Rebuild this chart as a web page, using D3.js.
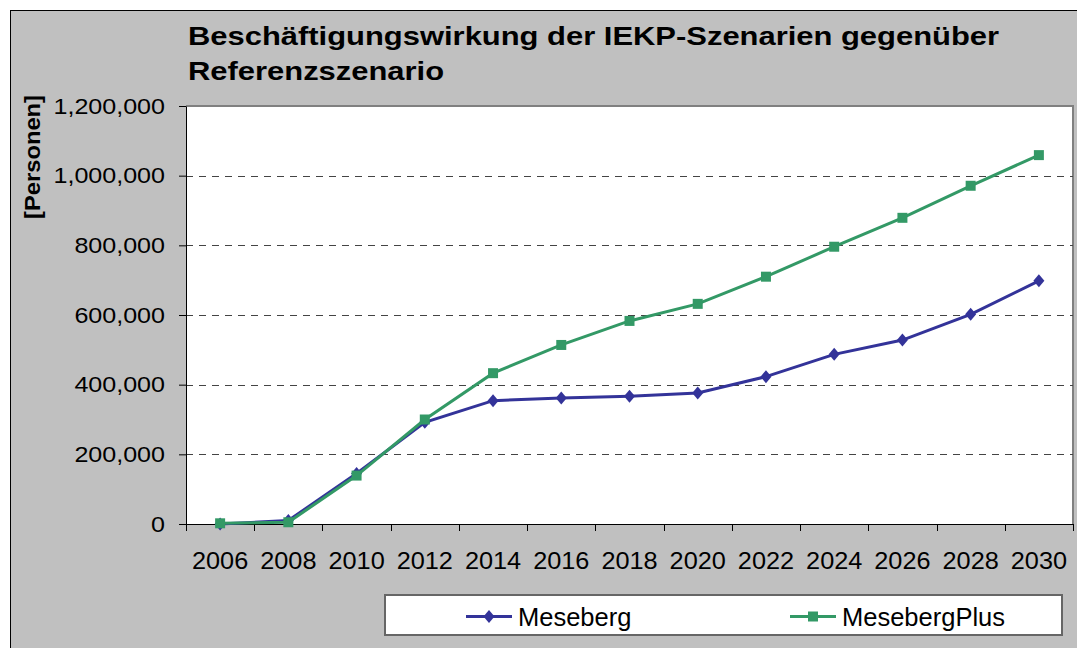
<!DOCTYPE html>
<html>
<head>
<meta charset="utf-8">
<script src="https://cdn.jsdelivr.net/npm/d3@7"></script>
<style>
  body { margin: 0; background: #fff; }
  text { font-family: "Liberation Sans", Arial, sans-serif; fill: #000; }
</style>
</head>
<body>
<div id="chart"></div>
<script>
// values
let years = [2006, 2008, 2010, 2012, 2014, 2016, 2018, 2020, 2022, 2024, 2026, 2028, 2030]
let meseberg = [0, 10000, 145000, 292000, 354000, 362000, 367000, 376000, 423000, 487000, 528000, 602000, 698000]
let mesebergPlus = [2000, 5000, 139000, 300000, 433000, 514000, 583000, 632000, 710000, 796000, 879000, 971000, 1059000]
let yTicks = [0, 200000, 400000, 600000, 800000, 1000000, 1200000]
let titleLines = ["Beschäftigungswirkung der IEKP-Szenarien gegenüber", "Referenzszenario"]
let seriesNames = ["Meseberg", "MesebergPlus"]

let W = 1077, H = 648
let plot = {left: 186, right: 1073, top: 106, bottom: 524}
let blue = "#333399", green = "#339966"

let svg = d3.select("#chart").append("svg")
    .attr("width", W).attr("height", H)

// chart background with black frame
svg.append("rect")
    .attr("x", 10.5).attr("y", 10.5)
    .attr("width", 1100).attr("height", 700)
    .attr("fill", "#c0c0c0").attr("stroke", "#000").attr("stroke-width", 1)

// title
titleLines.forEach((t, i) => {
    svg.append("text")
        .attr("transform", `translate(188,${45 + i * 35}) scale(1.19,1)`)
        .style("font-size", "26px").style("font-weight", "bold")
        .text(t)
})

let x = d3.scaleBand().domain(years).range([plot.left, plot.right])
let y = d3.scaleLinear().domain([0, 1200000]).range([plot.bottom, plot.top])

// plot area
svg.append("rect")
    .attr("x", plot.left).attr("y", plot.top)
    .attr("width", plot.right - plot.left).attr("height", plot.bottom - plot.top)
    .attr("fill", "#fff")
svg.append("path")
    .attr("d", `M${plot.left},${plot.top}H${plot.right}V${plot.bottom}`)
    .attr("fill", "none").attr("stroke", "#808080").attr("stroke-width", 2)

// dashed gridlines
svg.append("g").selectAll("line")
    .data(yTicks.filter(d => d > 0 && d < 1200000))
    .enter().append("line")
    .attr("x1", plot.left).attr("x2", plot.right)
    .attr("y1", d => Math.round(y(d)) + 0.5).attr("y2", d => Math.round(y(d)) + 0.5)
    .attr("stroke", "#444").attr("stroke-dasharray", "7,6")

// y axis
let yAxisG = svg.append("g")
    .attr("transform", `translate(${plot.left},0)`)
    .call(d3.axisLeft(y).tickValues(yTicks).tickSize(7).tickSizeOuter(0)
        .tickFormat(d3.format(",")))
yAxisG.select(".domain").attr("stroke", "#000")
yAxisG.selectAll(".tick line").attr("stroke", "#000")
yAxisG.selectAll(".tick text")
    .attr("x", -21 / 1.14)
    .attr("transform", "scale(1.14,1)")
    .style("font-size", "22px").style("font-family", "Liberation Sans, Arial, sans-serif")

// y axis title
svg.append("text")
    .attr("transform", "translate(40,157) rotate(-90) scale(1.08,1)")
    .attr("text-anchor", "middle")
    .style("font-size", "22px").style("font-weight", "bold")
    .text("[Personen]")

// x axis
let xAxisG = svg.append("g")
    .attr("transform", `translate(0,${plot.bottom})`)
    .call(d3.axisBottom(x).tickSize(0).tickSizeOuter(0))
xAxisG.select(".domain").attr("stroke", "#000")
xAxisG.selectAll(".tick text")
    .attr("y", 45).attr("dy", null)
    .attr("transform", "scale(1.1,1)")
    .style("font-size", "23px").style("font-family", "Liberation Sans, Arial, sans-serif")

// tick marks between categories
let bounds = years.map(d => x(d)).concat([x(years[years.length - 1]) + x.step()])
xAxisG.selectAll("line.bound")
    .data(bounds)
    .enter().append("line")
    .attr("class", "bound")
    .attr("x1", d => Math.round(d) + 0.5).attr("x2", d => Math.round(d) + 0.5)
    .attr("y1", 0).attr("y2", 7)
    .attr("stroke", "#000")

// markers
let diamond = (cx, cy) => `M${cx},${cy - 6.5}L${cx + 5.5},${cy}L${cx},${cy + 6.5}L${cx - 5.5},${cy}Z`
let square = (cx, cy) => `M${cx - 5},${cy - 5}h10v10h-10Z`

let series = [
    {name: seriesNames[0], values: meseberg, color: blue, marker: diamond},
    {name: seriesNames[1], values: mesebergPlus, color: green, marker: square}
]

let line = d3.line()
    .x((d, i) => x(years[i]) + x.bandwidth() / 2)
    .y(d => y(d))

series.forEach(s => {
    svg.append("path")
        .datum(s.values)
        .attr("d", line)
        .attr("fill", "none")
        .attr("stroke", s.color).attr("stroke-width", 3)
    svg.append("g").selectAll("path")
        .data(s.values)
        .enter().append("path")
        .attr("d", (d, i) => s.marker(x(years[i]) + x.bandwidth() / 2, y(d)))
        .attr("fill", s.color)
})

// legend
let legend = svg.append("g")
legend.append("rect")
    .attr("x", 385).attr("y", 595)
    .attr("width", 677).attr("height", 40)
    .attr("fill", "#fff").attr("stroke", "#666").attr("stroke-width", 2)

let legendX = [466, 790]
series.forEach((s, i) => {
    let lx = legendX[i]
    legend.append("line")
        .attr("x1", lx).attr("x2", lx + 46)
        .attr("y1", 616.5).attr("y2", 616.5)
        .attr("stroke", s.color).attr("stroke-width", 3)
    legend.append("path")
        .attr("d", s.marker(lx + 23, 616.5))
        .attr("fill", s.color)
    legend.append("text")
        .attr("x", lx + 52).attr("y", 626)
        .style("font-size", "25.5px")
        .text(s.name)
})
</script>
</body>
</html>
